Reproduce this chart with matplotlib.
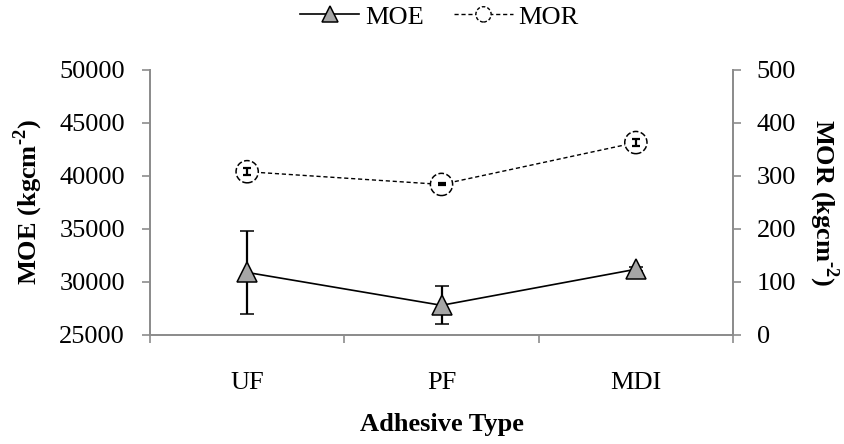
import matplotlib
matplotlib.use("Agg")
import matplotlib.pyplot as plt
from matplotlib.lines import Line2D
from matplotlib.patches import Ellipse
from matplotlib.legend_handler import HandlerBase

categories = ["UF", "PF", "MDI"]
moe = [30900, 27800, 31200]
moe_err = [3900, 1780, 200]
mor = [308, 284, 363]
mor_err = [7, 2, 6]

plt.rcParams['font.family'] = ['Liberation Serif', 'DejaVu Serif']
plt.rcParams['mathtext.fontset'] = 'custom'
plt.rcParams['mathtext.rm'] = 'Liberation Serif:bold'
plt.rcParams['mathtext.bf'] = 'Liberation Serif:bold'
FS = 19
GRAY = '#8c8c8c'


class HandlerMOR(HandlerBase):
    def create_artists(self, legend, orig_handle, xdescent, ydescent, width,
                       height, fontsize, trans):
        y = height / 2 - ydescent
        x0 = -xdescent
        line = Line2D([x0, x0 + width], [y, y], color='black', lw=1.0,
                      ls=(0, (3, 2)), transform=trans)
        d = 11
        circ = Ellipse((x0 + width / 2, y), d, d, facecolor='white',
                       edgecolor='black', lw=1.0, ls=(0, (2.5, 1.5)),
                       transform=trans)
        return [line, circ]


fig = plt.figure(figsize=(8.45, 4.44), dpi=100)
ax = fig.add_axes([0.1775, 0.2455, 0.69, 0.597])
ax2 = ax.twinx()

x = list(range(len(categories)))

ax.errorbar(x, moe, yerr=moe_err, color='black', lw=1.2, elinewidth=1.6,
            capsize=5, capthick=1.6, marker='^', markersize=14,
            markerfacecolor='#a6a6a6', markeredgecolor='black', markeredgewidth=1.1,
            zorder=3)

ax2.plot(x, mor, color='black', lw=1.0, ls=(0, (3, 2)), zorder=2)
ax2.scatter(x, mor, s=16**2, facecolors='white', edgecolors='black',
            linewidths=1.1, linestyles='dashed', zorder=2.5)
ax2.errorbar(x, mor, yerr=mor_err, fmt='none', ecolor='black',
             elinewidth=1.6, capsize=3, capthick=1.6, zorder=4)

ax.set_xlim(-0.5, 2.5)
ax.set_ylim(25000, 50000)
ax2.set_ylim(0, 500)
ax.set_yticks(range(25000, 50001, 5000))
ax2.set_yticks(range(0, 501, 100))
ax.set_xticks(x)
ax.set_xticklabels(categories)
ax.set_xticks([-0.5, 0.5, 1.5, 2.5], minor=True)
ax.tick_params(axis='x', which='major', length=0, pad=27, labelsize=FS)
ax.tick_params(axis='x', which='minor', length=6, color=GRAY, width=1.2)
ax.tick_params(axis='y', length=6, color=GRAY, width=1.2, labelsize=FS, pad=12)
ax2.tick_params(axis='y', length=6, color=GRAY, width=1.2, labelsize=FS, pad=11)

for a in (ax, ax2):
    a.spines['top'].set_visible(False)
    for s in ('left', 'right', 'bottom'):
        a.spines[s].set_color(GRAY)
        a.spines[s].set_linewidth(1.3)

ax.set_xlabel('Adhesive Type', fontsize=FS, fontweight='bold', labelpad=13)
ax.set_ylabel(r'MOE (kgcm$^{\text{-}2}$)', fontsize=FS, fontweight='bold', labelpad=10)
ax2.set_ylabel(r'MOR (kgcm$^{\text{-}2}$)', fontsize=FS, fontweight='bold',
               rotation=270, labelpad=32)

h1 = Line2D([], [], color='black', lw=1.2, marker='^', markersize=11,
            markerfacecolor='#a6a6a6', markeredgecolor='black', markeredgewidth=1.1)
h2 = object()
fig.legend([h1, h2], ['MOE', 'MOR'], loc='center', bbox_to_anchor=(0.52, 0.962),
           ncol=2, frameon=False, fontsize=FS, handlelength=2.25, columnspacing=1.15,
           handletextpad=0.2, handler_map={h2: HandlerMOR()})

fig.savefig('out.png', dpi=100)
